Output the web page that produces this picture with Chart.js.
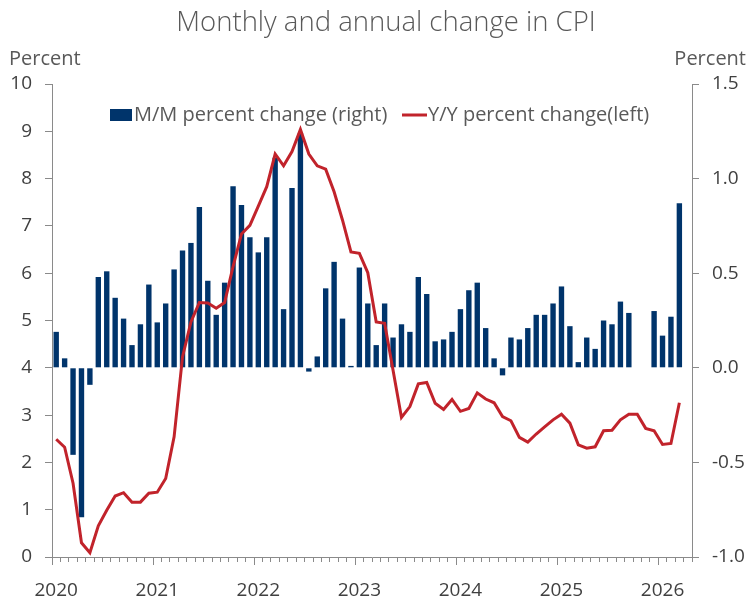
<!DOCTYPE html>
<html>
<head>
<meta charset="utf-8">
<script src="https://cdn.jsdelivr.net/npm/chart.js@4.4.1/dist/chart.umd.min.js"></script>
<style>
  html, body { margin: 0; padding: 0; background: #fff; }
</style>
</head>
<body>
<canvas id="cpiChart" width="748" height="599"></canvas>
<script>
/* ===== DATA ===== */
const years = [2020, 2021, 2022, 2023, 2024, 2025, 2026];
const monthNames = ["Jan","Feb","Mar","Apr","May","Jun","Jul","Aug","Sep","Oct","Nov","Dec"];
const yearLabels = ["2020", "2021", "2022", "2023", "2024", "2025", "2026"];

// monthly categories, Jan 2020 .. Apr 2026
const categories = [];
years.forEach(y => monthNames.forEach(m => {
  if (y < 2026 || monthNames.indexOf(m) < 4) categories.push(m + " " + y);
}));

// M/M percent change (right axis)
const mmChange = [
  0.19, 0.05, -0.46, -0.79, -0.09, 0.48, 0.51, 0.37, 0.26, 0.12, 0.23, 0.44,
  0.24, 0.34, 0.52, 0.62, 0.66, 0.85, 0.46, 0.28, 0.45, 0.96, 0.86, 0.69,
  0.61, 0.69, 1.11, 0.31, 0.95, 1.24, -0.02, 0.06, 0.42, 0.56, 0.26, 0.01,
  0.53, 0.34, 0.12, 0.34, 0.16, 0.23, 0.19, 0.48, 0.39, 0.14, 0.15, 0.19,
  0.31, 0.41, 0.45, 0.21, 0.05, -0.04, 0.16, 0.15, 0.21, 0.28, 0.28, 0.34,
  0.43, 0.22, 0.03, 0.16, 0.10, 0.25, 0.23, 0.35, 0.29, null, null, 0.30,
  0.17, 0.27, 0.87, null
];

// Y/Y percent change (left axis)
const yyChange = [
  2.49, 2.32, 1.56, 0.30, 0.09, 0.66, 0.99, 1.29, 1.36, 1.16, 1.16, 1.35,
  1.37, 1.66, 2.54, 4.23, 4.97, 5.38, 5.37, 5.26, 5.38, 6.14, 6.83, 7.01,
  7.42, 7.83, 8.52, 8.27, 8.57, 9.04, 8.52, 8.27, 8.20, 7.72, 7.12, 6.45,
  6.42, 6.01, 4.97, 4.94, 3.95, 2.95, 3.18, 3.66, 3.69, 3.25, 3.12, 3.33,
  3.08, 3.14, 3.47, 3.34, 3.26, 2.97, 2.88, 2.53, 2.43, 2.60, 2.75, 2.90,
  3.02, 2.83, 2.37, 2.30, 2.33, 2.67, 2.68, 2.90, 3.02, 3.02, 2.72, 2.67,
  2.38, 2.40, 3.26, null
];

const chartTitle = "Monthly and annual change in CPI";
const axisGrey = "#8a8a8a";
const textGrey = "#595959";

Chart.defaults.font.family = '"Open Sans", "Noto Sans", sans-serif';
Chart.defaults.font.size = 19;
Chart.defaults.color = "#404040";

/* ===== TITLE / UNITS / LEGEND / YEAR TICKS ===== */
const decorations = {
  id: "decorations",
  afterDraw(chart) {
    const { ctx, scales } = chart;
    const x = scales.x;
    const half = (x.getPixelForValue(1) - x.getPixelForValue(0)) / 2;
    ctx.save();

    // longer ticks at the start of each year
    ctx.strokeStyle = axisGrey;
    ctx.lineWidth = 1;
    categories.forEach((c, i) => {
      if (c.startsWith("Jan")) {
        const px = Math.round(x.getPixelForValue(i) - half) + 0.5;
        ctx.beginPath();
        ctx.moveTo(px, x.top);
        ctx.lineTo(px, x.top + 8);
        ctx.stroke();
      }
    });

    ctx.fillStyle = textGrey;
    ctx.textBaseline = "middle";
    ctx.font = '300 27.5px "Open Sans"';
    ctx.textAlign = "center";
    ctx.fillText(chartTitle, 386, 23);

    ctx.font = '20px "Open Sans"';
    ctx.textAlign = "left";
    ctx.fillText("Percent", 9, 59);
    ctx.textAlign = "right";
    ctx.fillText("Percent", 746, 59);

    // legend inside the plot
    const bars = chart.data.datasets[1];
    const line = chart.data.datasets[0];
    ctx.textAlign = "left";
    ctx.fillStyle = bars.backgroundColor;
    ctx.fillRect(110, 109, 22, 12);
    ctx.fillStyle = textGrey;
    ctx.fillText(bars.label, 134, 115);

    ctx.strokeStyle = line.borderColor;
    ctx.lineWidth = 3;
    ctx.beginPath();
    ctx.moveTo(402, 115);
    ctx.lineTo(427, 115);
    ctx.stroke();
    ctx.fillText(line.label, 428, 115);

    ctx.restore();
  }
};

new Chart(document.getElementById("cpiChart"), {
  data: {
    labels: categories,
    datasets: [
      {
        type: "line",
        label: "Y/Y percent change(left)",
        data: yyChange,
        yAxisID: "y",
        borderColor: "#C1232B",
        borderWidth: 3,
        pointRadius: 0,
        tension: 0,
        order: 0
      },
      {
        type: "bar",
        label: "M/M percent change (right)",
        data: mmChange,
        yAxisID: "y1",
        backgroundColor: "#00346B",
        barPercentage: 0.64,
        categoryPercentage: 1,
        order: 1
      }
    ]
  },
  options: {
    responsive: false,
    animation: false,
    layout: { padding: { top: 84, left: 0, right: 0, bottom: 0 } },
    plugins: {
      legend: { display: false },
      title: { display: false },
      tooltip: { enabled: false }
    },
    scales: {
      x: {
        type: "category",
        offset: true,
        afterFit(s) { s.height = 42; },
        grid: { offset: true, drawOnChartArea: false, tickLength: 5, color: axisGrey },
        border: { color: axisGrey },
        ticks: {
          autoSkip: false,
          maxRotation: 0,
          padding: 17,
          callback: (v, i) => (i % 12 === 0 ? yearLabels[i / 12] : "")
        }
      },
      y: {
        position: "left",
        min: 0,
        max: 10,
        afterFit(s) { s.width = 52; },
        grid: { drawOnChartArea: false, tickLength: 7, color: axisGrey },
        border: { color: axisGrey },
        ticks: { stepSize: 1, padding: 13 }
      },
      y1: {
        position: "right",
        min: -1,
        max: 1.5,
        afterFit(s) { s.width = 56; },
        grid: { drawOnChartArea: false, tickLength: 7, color: axisGrey },
        border: { color: axisGrey },
        ticks: { stepSize: 0.5, padding: 13, callback: v => v.toFixed(1) }
      }
    }
  },
  plugins: [decorations]
});
</script>
</body>
</html>
